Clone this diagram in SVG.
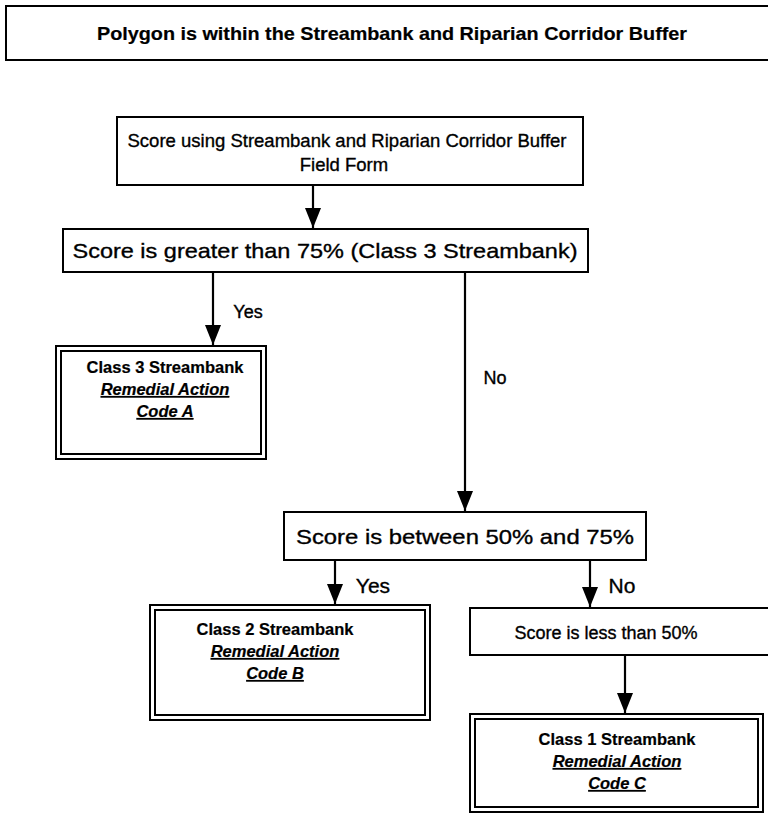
<svg xmlns="http://www.w3.org/2000/svg" width="768" height="815" viewBox="0 0 768 815">
<style>
.box{fill:#fff;stroke:#000;stroke-width:2}
.t{font-family:"Liberation Sans",Arial,sans-serif;fill:#000;text-anchor:middle;stroke:#000;stroke-width:0.35}
.b{font-weight:bold;stroke-width:0.2}
.bi{font-weight:bold;font-style:italic;text-decoration:underline;stroke-width:0.2}
.c{stroke:#000;stroke-width:2.2;fill:none}
</style>
<defs>
<marker id="ah" markerWidth="20" markerHeight="16" refX="20" refY="8" orient="auto" markerUnits="userSpaceOnUse" viewBox="0 0 20 16">
<path d="M0,0 L20,8 L0,16 Z" fill="#000"/>
</marker>
</defs>
<rect width="768" height="815" fill="#fff"/>
<g id="title">
<rect class="box" x="6" y="6" width="780" height="54"/>
<text class="t b" x="392" y="40" font-size="19" textLength="590" lengthAdjust="spacingAndGlyphs">Polygon is within the Streambank and Riparian Corridor Buffer</text>
</g>
<g id="score-form">
<rect class="box" x="117" y="117" width="466" height="68"/>
<text class="t" x="347" y="147" font-size="18.5" textLength="439" lengthAdjust="spacingAndGlyphs">Score using Streambank and Riparian Corridor Buffer</text>
<text class="t" x="344" y="171" font-size="18.5">Field Form</text>
</g>
<g id="gt75">
<rect class="box" x="63" y="229" width="525" height="43"/>
<text class="t" x="325" y="258" font-size="21" textLength="505" lengthAdjust="spacingAndGlyphs">Score is greater than 75% (Class 3 Streambank)</text>
</g>
<g id="class3">
<rect class="box" x="56" y="346" width="210" height="113" stroke-width="3"/>
<rect class="box" x="61" y="351" width="200" height="103" stroke-width="1.5"/>
<text class="t b" x="165" y="373" font-size="16.5">Class 3 Streambank</text>
<text class="t bi" x="165" y="395" font-size="16.5">Remedial Action</text>
<text class="t bi" x="165" y="417" font-size="16.5">Code A</text>
</g>
<g id="between">
<rect class="box" x="284" y="512" width="362" height="48"/>
<text class="t" x="465" y="544" font-size="21" textLength="338" lengthAdjust="spacingAndGlyphs">Score is between 50% and 75%</text>
</g>
<g id="class2">
<rect class="box" x="150" y="605" width="280" height="115" stroke-width="3"/>
<rect class="box" x="155" y="610" width="270" height="105" stroke-width="1.5"/>
<text class="t b" x="275" y="635" font-size="16.5">Class 2 Streambank</text>
<text class="t bi" x="275" y="657" font-size="16.5">Remedial Action</text>
<text class="t bi" x="275" y="679" font-size="16.5">Code B</text>
</g>
<g id="lt50">
<rect class="box" x="470" y="608" width="310" height="47"/>
<text class="t" x="606" y="639" font-size="18">Score is less than 50%</text>
</g>
<g id="class1">
<rect class="box" x="470" y="714" width="293" height="98" stroke-width="3"/>
<rect class="box" x="475" y="719" width="283" height="88" stroke-width="1.5"/>
<text class="t b" x="617" y="745" font-size="16.5">Class 1 Streambank</text>
<text class="t bi" x="617" y="767" font-size="16.5">Remedial Action</text>
<text class="t bi" x="617" y="789" font-size="16.5">Code C</text>
</g>
<g id="connectors">
<line class="c" x1="313" y1="185" x2="313" y2="228" marker-end="url(#ah)"/>
<line class="c" x1="213" y1="272" x2="213" y2="345" marker-end="url(#ah)"/>
<line class="c" x1="465" y1="272" x2="465" y2="511" marker-end="url(#ah)"/>
<line class="c" x1="335" y1="560" x2="335" y2="604" marker-end="url(#ah)"/>
<line class="c" x1="590" y1="560" x2="590" y2="607" marker-end="url(#ah)"/>
<line class="c" x1="625" y1="655" x2="625" y2="713" marker-end="url(#ah)"/>
<text class="t" x="248" y="318" font-size="18">Yes</text>
<text class="t" x="495" y="384" font-size="18">No</text>
<text class="t" x="373" y="593" font-size="21">Yes</text>
<text class="t" x="622" y="593" font-size="21">No</text>
</g>
</svg>
